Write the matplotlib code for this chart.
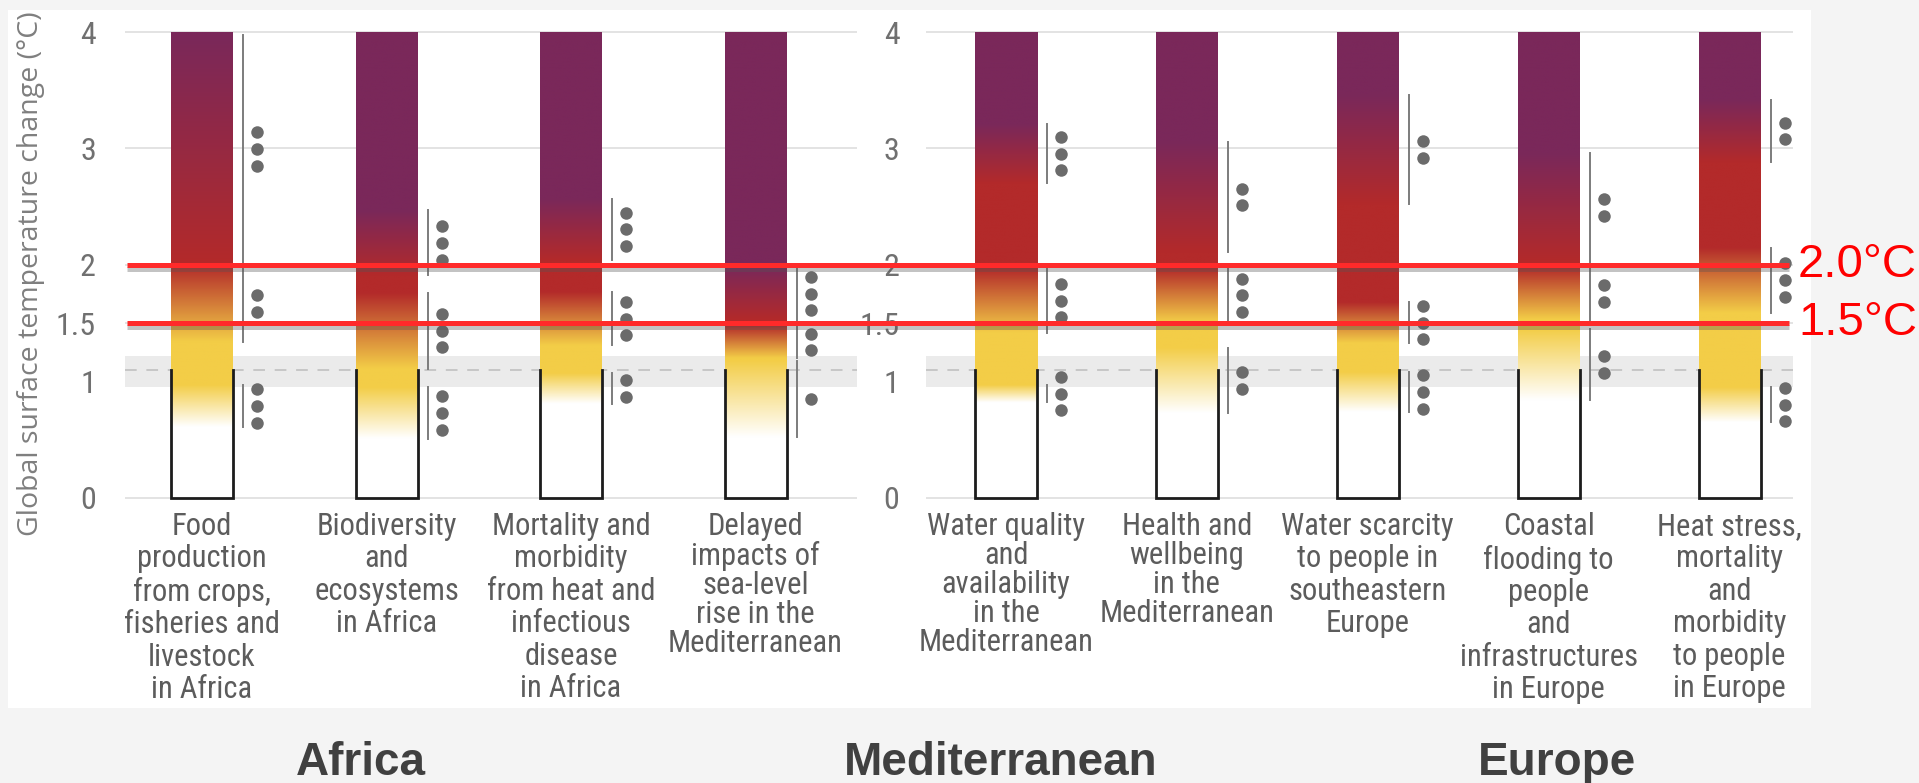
import numpy as np
import matplotlib.pyplot as plt
from matplotlib import font_manager
from matplotlib.font_manager import FontProperties
from matplotlib.colors import to_rgb
from matplotlib.patches import Rectangle
import matplotlib.patheffects as pe

# ---- data ----
left_labels = [
    "Food\nproduction\nfrom crops,\nfisheries and\nlivestock\nin Africa",
    "Biodiversity\nand\necosystems\nin Africa",
    "Mortality and\nmorbidity\nfrom heat and\ninfectious\ndisease\nin Africa",
    "Delayed\nimpacts of\nsea-level\nrise in the\nMediterranean",
]
# transition ranges (white->yellow, yellow->red, red->purple), in degC
left_lo = [[0.61, 1.34, 2.02], [0.51, 1.11, 1.91], [0.81, 1.31, 2.04], [0.52, 1.20, 1.53]]
left_hi = [[0.97, 2.00, 3.97], [0.95, 1.76, 2.47], [1.07, 1.77, 2.57], [1.18, 1.48, 1.98]]
left_dots = [[3, 2, 3], [3, 3, 3], [2, 3, 3], [1, 2, 3]]

right_labels = [
    "Water quality\nand\navailability\nin the\nMediterranean",
    "Health and\nwellbeing\nin the\nMediterranean",
    "Water scarcity\nto people in\nsoutheastern\nEurope",
    "Coastal\nflooding to\npeople\nand\ninfrastructures\nin Europe",
    "Heat stress,\nmortality\nand\nmorbidity\nto people\nin Europe",
]
right_lo = [[0.82, 1.42, 2.70], [0.73, 1.51, 2.11], [0.74, 1.33, 2.52], [0.84, 1.53, 2.03], [0.65, 1.59, 2.88]]
right_hi = [[0.97, 1.97, 3.21], [1.29, 1.97, 3.06], [1.08, 1.68, 3.46], [1.45, 1.98, 2.96], [0.95, 2.15, 3.42]]
right_dots = [[3, 3, 3], [2, 3, 2], [3, 3, 2], [2, 2, 2], [3, 3, 2]]

yticks = [0, 1, 1.5, 2, 3, 4]
ytick_labels = ["0", "1", "1.5", "2", "3", "4"]
recent_band = (0.95, 1.22)
recent_mean = 1.1
thresholds = [1.5, 2.0]
threshold_labels = ["1.5°C", "2.0°C"]
regions = ["Africa", "Mediterranean", "Europe"]
ember_colors = ["#ffffff", "#f3cd47", "#b32a2a", "#7a285a"]

# ---- fonts ----
def find_condensed():
    fl = font_manager.fontManager.ttflist
    for name in ["Liberation Sans Narrow", "Roboto Condensed", "Open Sans Condensed", "Noto Sans Condensed"]:
        for f in fl:
            if f.name == name and f.style == "normal" and f.weight in (400, "normal", "regular"):
                return f.fname
    for f in fl:
        if f.stretch in ("condensed", "semi-condensed") and f.style == "normal" and f.weight in (400, "normal", "regular"):
            return f.fname
    return None

cond_file = find_condensed()
def cond(size):
    if cond_file:
        return FontProperties(fname=cond_file, size=size)
    return FontProperties(family="DejaVu Sans", size=size * 0.8, stretch="condensed")

W, H = 1919, 783
fig = plt.figure(figsize=(W / 100, H / 100), dpi=100, facecolor="#f4f4f4")
fig.patches.append(Rectangle((8 / W, 1 - 708 / H), (1811 - 8) / W, (708 - 10) / H,
                             transform=fig.transFigure, fc="white", ec="none", zorder=-5))

ylim = (-0.1, 4.1)
y0_px, y4_px = 498, 32
ppu_y = (y0_px - y4_px) / 4
bot_px = y0_px - ylim[0] * ppu_y
top_px = y4_px - (ylim[1] - 4) * ppu_y
ax_b = 1 - bot_px / H
ax_h = (bot_px - top_px) / H

rgb = np.array([to_rgb(c) for c in ember_colors])
tgrid = np.linspace(0, 4, 600)


def draw_panel(ax, labels, lo, hi, dots, x_px, first_px, step_px, pad, tight):
    x0, x1 = x_px
    xmin = (x0 - first_px) / step_px
    xmax = (x1 - first_px) / step_px
    w = 62 / step_px
    lx = w / 2 + 10 / step_px
    dx = w / 2 + 24 / step_px

    ax.axhspan(*recent_band, color="#ebebeb", lw=0, zorder=0.5)
    ax.axhline(recent_mean, color="#c6c6c6", lw=1.4, ls=(0, (6, 5)), zorder=0.6)
    for t in yticks:
        ax.axhline(t, color="#dedede", lw=1.2, zorder=0.4)

    for i, (l, h, d) in enumerate(zip(lo, hi, dots)):
        stops = [0, l[0], h[0], l[1], h[1], l[2], h[2], 4]
        cols = rgb[[0, 0, 1, 1, 2, 2, 3, 3]]
        img = np.stack([np.interp(tgrid, stops, cols[:, k]) for k in range(3)], axis=-1)[:, None, :]
        ax.imshow(img, extent=[i - w / 2, i + w / 2, 0, 4], origin="lower",
                  aspect="auto", interpolation="bilinear", zorder=2)
        ax.plot([i - w / 2, i - w / 2, i + w / 2, i + w / 2], [recent_mean, 0, 0, recent_mean],
                color="#1c1c1c", lw=2, zorder=3, solid_joinstyle="miter")
        for a, b, n in zip(l, h, d):
            ax.plot([i + lx, i + lx], [a, b], color="#7c7c7c", lw=1.4, zorder=3)
            ys = (a + b) / 2 + (np.arange(n) - (n - 1) / 2) * 0.143
            ax.plot([i + dx] * n, ys, "o", color="#6b6b6b", ms=9, mec="none", zorder=3)
        ls = 1.0 if i in tight else 1.15
        ax.text(i, -0.12, labels[i], ha="center", va="top", color="#5c5c5c",
                fontproperties=cond(22), linespacing=ls, clip_on=False)

    ax.set_xlim(xmin, xmax)
    ax.set_ylim(*ylim)
    ax.set_yticks(yticks, labels=ytick_labels)
    for lb in ax.get_yticklabels():
        lb.set_fontproperties(cond(23))
        lb.set_color("#707070")
    ax.tick_params(axis="y", length=0, pad=pad)
    ax.set_xticks([])
    for s in ax.spines.values():
        s.set_visible(False)
    ax.set_facecolor("white")


axL = fig.add_axes([125 / W, ax_b, (857 - 125) / W, ax_h])
draw_panel(axL, left_labels, left_lo, left_hi, left_dots, (125, 857), 202, 184.5, 21, {3})
axR = fig.add_axes([926 / W, ax_b, (1793 - 926) / W, ax_h])
draw_panel(axR, right_labels, right_lo, right_hi, right_dots, (926, 1793), 1006, 180.9, 19, {0, 1})

fig.text(31 / W, 1 - 274 / H, "Global surface temperature change (°C)", rotation=90,
         ha="center", va="center", color="#7f7f7f", fontsize=20.5, family=["Open Sans", "DejaVu Sans"])

# warming threshold lines across both panels
ov = fig.add_axes([0, ax_b, 1, ax_h])
ov.set_xlim(0, W)
ov.set_ylim(*ylim)
ov.axis("off")
ov.patch.set_alpha(0)
for t, lab in zip(thresholds, threshold_labels):
    ov.plot([127, 1789], [t, t], color="#ff2a2a", lw=3.6, solid_capstyle="butt",
            path_effects=[pe.SimpleLineShadow(offset=(0, -3), shadow_color="#555555", alpha=0.35),
                          pe.Normal()])
    ov.text(1798, t, lab, ha="left", va="center", color="#ff0000", fontsize=34,
            family=["Liberation Sans", "DejaVu Sans"])

for name, xc in zip(regions, [361, 1001, 1557]):
    fig.text(xc / W, 1 - 763 / H, name, ha="center", va="center", color="#404040",
             fontsize=33, fontweight="bold", family=["Liberation Sans", "DejaVu Sans"])

fig.savefig("out.png", dpi=100, facecolor=fig.get_facecolor())
